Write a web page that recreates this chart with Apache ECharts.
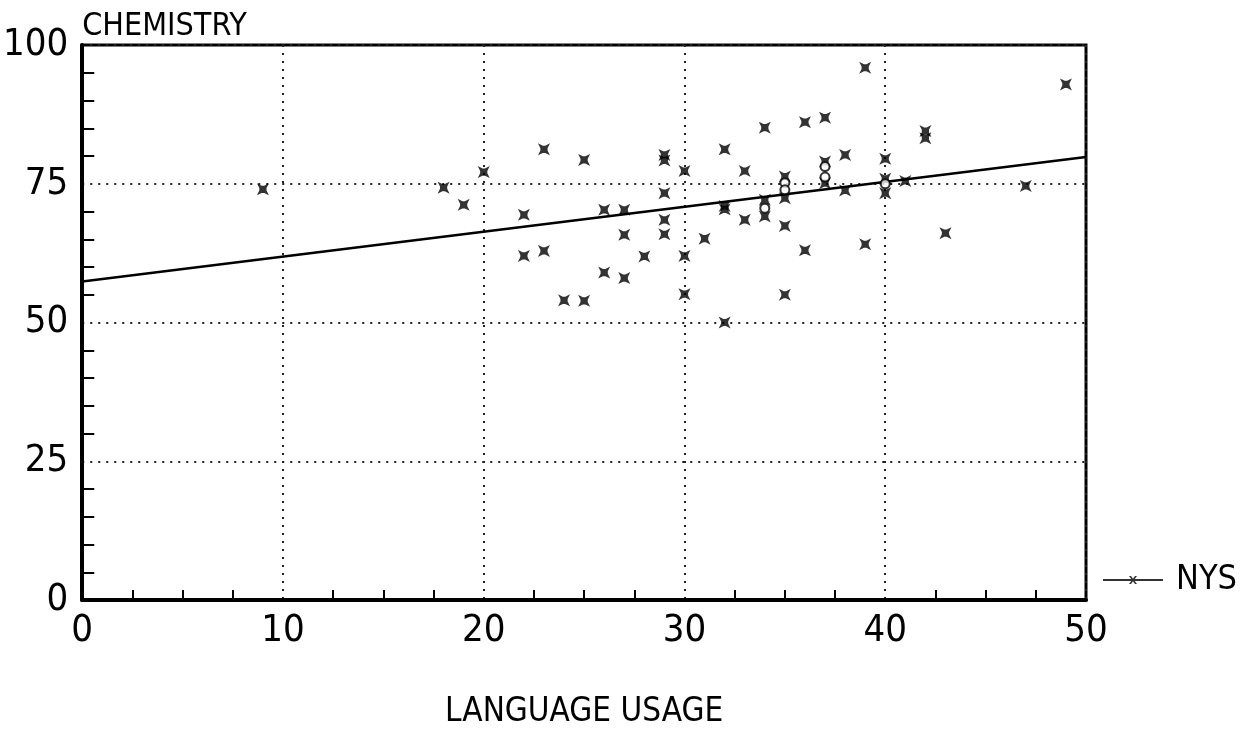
<!DOCTYPE html>
<html>
<head>
<meta charset="utf-8">
<script src="https://cdn.jsdelivr.net/npm/echarts@6/dist/echarts.min.js"></script>
<style>html,body{margin:0;padding:0;background:#fff;}#c{width:1241px;height:755px;}</style>
</head>
<body>
<div id="c"></div>
<script>
// Scatter points (LANGUAGE USAGE, CHEMISTRY) drawn with the cross marker
const crossX = [9, 18, 19, 20, 22, 22, 23, 23, 24, 25, 25, 26, 26, 27, 27, 27, 28, 29, 29, 29, 29, 29,
  30, 30, 30, 31, 32, 32, 32, 32, 33, 33, 34, 34, 34, 35, 35, 35, 35, 36, 36, 37, 37, 37,
  38, 38, 39, 39, 40, 40, 40, 41, 42, 42, 43, 47, 49];
const crossY = [74.0, 74.3, 71.2, 77.1, 69.4, 62.0, 81.2, 62.9, 54.0, 79.3, 53.9, 70.3, 59.0, 70.3, 65.8, 58.0, 61.9, 80.2, 79.2, 73.3, 68.5, 65.9,
  77.3, 62.0, 55.1, 65.1, 81.2, 70.4, 50.0, 71.0, 77.3, 68.5, 85.1, 72.1, 69.1, 76.3, 72.4, 67.4, 55.0, 86.1, 63.0, 86.9, 79.0, 75.1,
  80.2, 73.8, 95.9, 64.1, 79.5, 75.9, 73.3, 75.5, 84.5, 83.2, 66.1, 74.6, 92.9];
// Overlapping observations drawn as small circles
const circleX = [34, 35, 35, 37, 37, 40];
const circleY = [70.6, 75.2, 73.9, 78.1, 76.2, 75.0];
// Fitted regression line end points
const fitX = [0, 50];
const fitY = [57.4, 79.8];
const xTicks = [0, 10, 20, 30, 40, 50];
const yTicks = [0, 25, 50, 75, 100];
const seriesName = 'NYS';
const xTitle = 'LANGUAGE USAGE';
const yTitle = 'CHEMISTRY';

const FONT = "'Liberation Sans Narrow', 'DejaVu Sans Condensed', 'Liberation Sans', sans-serif";
const crossPath = 'path://M0,0 L4,2 L6,2 L10,0 L8,4 L8,6 L10,10 L6,8 L4,8 L0,10 L2,6 L2,4 Z';
const legendIcon = 'path://M0,5 H60 V7 H0 Z M26,2 L28,2 L34,10 L32,10 Z M32,2 L34,2 L28,10 L26,10 Z';

const chart = echarts.init(document.getElementById('c'), null, {renderer: 'canvas'});
chart.setOption({
  backgroundColor: '#fff',
  animation: false,
  grid: {left: 80, right: 155, top: 45, bottom: 155, show: true, borderColor: '#000', borderWidth: 3, backgroundColor: 'transparent'},
  legend: {
    data: [{name: seriesName, icon: legendIcon, itemStyle: {color: '#000'}}],
    left: 1098, top: 558, itemWidth: 60, itemHeight: 12,
    textStyle: {fontFamily: FONT, fontSize: 34, color: '#000', padding: [0, 0, 0, 8]}
  },
  xAxis: {
    type: 'value', min: xTicks[0], max: xTicks[xTicks.length - 1], interval: 10,
    name: xTitle, nameLocation: 'middle', nameGap: 96,
    nameTextStyle: {fontFamily: FONT, fontSize: 33, color: '#000'},
    axisLine: {show: true, lineStyle: {color: '#000', width: 4}},
    axisTick: {show: false, inside: true},
    minorTick: {show: true, splitNumber: 4, length: 10, lineStyle: {color: '#000', width: 2}},
    axisLabel: {fontFamily: FONT, fontSize: 38, color: '#000', margin: 12,
      formatter: v => xTicks.indexOf(v) >= 0 ? String(v) : ''},
    splitLine: {show: true, lineStyle: {color: '#222', width: 2, type: [2, 6]}}
  },
  yAxis: {
    type: 'value', min: yTicks[0], max: yTicks[yTicks.length - 1], interval: 25,
    name: yTitle, nameLocation: 'end', nameGap: 2,
    nameTextStyle: {fontFamily: FONT, fontSize: 32, color: '#000', align: 'left', verticalAlign: 'bottom'},
    axisLine: {show: true, lineStyle: {color: '#000', width: 4}},
    axisTick: {show: false, inside: true},
    minorTick: {show: true, splitNumber: 5, length: 12, lineStyle: {color: '#000', width: 2}},
    axisLabel: {fontFamily: FONT, fontSize: 38, color: '#000', margin: 14,
      formatter: v => yTicks.indexOf(v) >= 0 ? String(v) : ''},
    splitLine: {show: true, lineStyle: {color: '#222', width: 2, type: [2, 6]}}
  },
  series: [
    {
      name: seriesName, type: 'scatter', symbol: crossPath, symbolSize: 12,
      itemStyle: {color: '#000'},
      data: crossX.map((x, i) => [x, crossY[i]]), z: 3
    },
    {
      name: 'dup', type: 'scatter', symbol: 'circle', symbolSize: 9,
      itemStyle: {color: '#fff', borderColor: '#000', borderWidth: 2},
      data: circleX.map((x, i) => [x, circleY[i]]), z: 3
    },
    {
      name: 'fit', type: 'line', symbol: 'none', silent: true,
      lineStyle: {color: '#000', width: 2.5},
      data: fitX.map((x, i) => [x, fitY[i]]), z: 2
    }
  ]
});
</script>
</body>
</html>
